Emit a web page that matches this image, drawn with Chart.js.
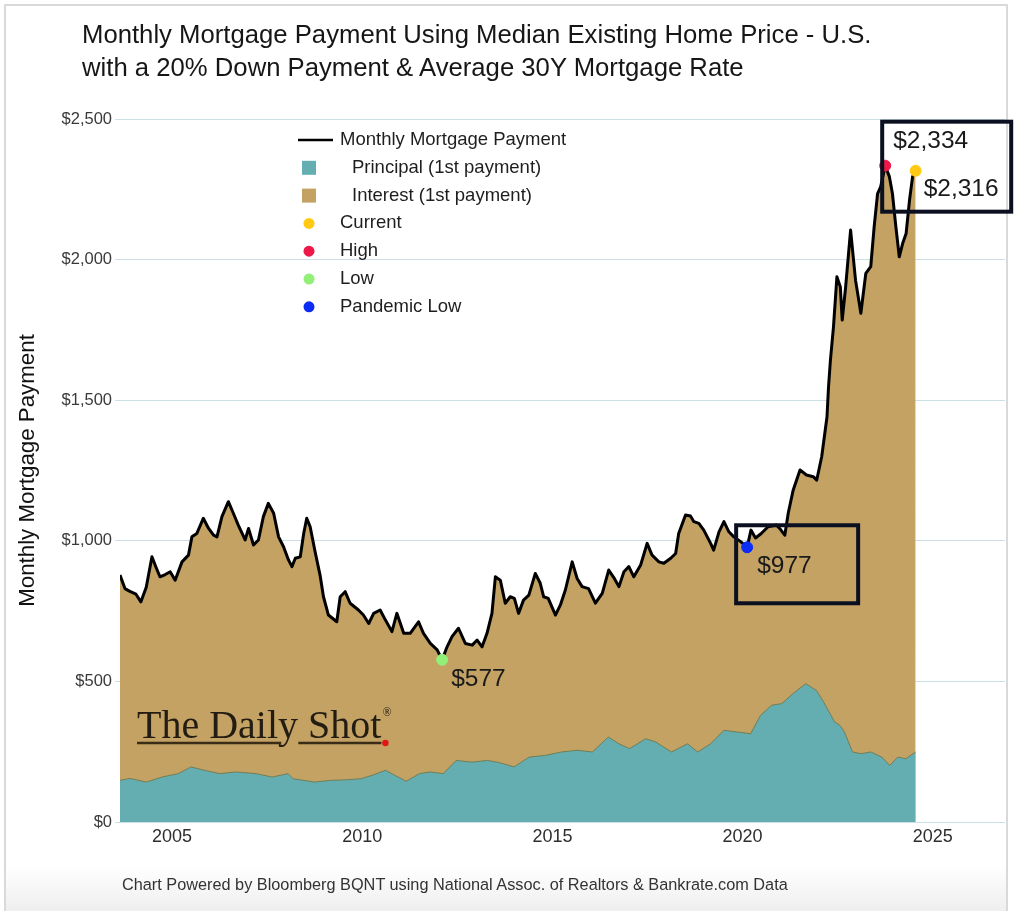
<!DOCTYPE html>
<html>
<head>
<meta charset="utf-8">
<title>Monthly Mortgage Payment</title>
<script src="https://cdn.jsdelivr.net/npm/chart.js@4.4.1/dist/chart.umd.min.js"></script>
<style>
  html, body { margin: 0; padding: 0; background: #fff; }
  #wrap { position: relative; width: 1016px; height: 911px; overflow: hidden;
          font-family: "Liberation Sans", Arial, sans-serif; }
  #frame { position: absolute; left: 4px; top: 4px; width: 1000px; height: 910px;
           border: 2px solid #d9d9d9; border-bottom: none;
           background: linear-gradient(#fff 0, #fff 860px, #ececec 911px); }
  #chart { position: absolute; left: 0; top: 0; }
  #title { position: absolute; left: 82px; top: 18px; font-size: 25.7px; line-height: 33px; color: #161616; }
  #footer { position: absolute; left: 122px; top: 875px; font-size: 16.3px; line-height: 18px; color: #333; }
</style>
</head>
<body>
<div id="wrap">
  <div id="frame"></div>
  <canvas id="chart" width="1016" height="911"></canvas>
  <div id="title">Monthly Mortgage Payment Using Median Existing Home Price - U.S.<br>with a 20% Down Payment &amp; Average 30Y Mortgage Rate</div>
  <div id="footer">Chart Powered by Bloomberg BQNT using National Assoc. of Realtors &amp; Bankrate.com Data</div>
</div>
<script>
// ---------------- data ----------------
const payYears = [
  2003.63, 2003.76, 2003.89, 2004.05, 2004.18, 2004.32, 2004.47, 2004.58, 2004.68, 2004.82,
  2004.95, 2005.08, 2005.26, 2005.43, 2005.52, 2005.65, 2005.82, 2005.96, 2006.09, 2006.18,
  2006.31, 2006.48, 2006.61, 2006.74, 2006.92, 2007.01, 2007.14, 2007.27, 2007.40, 2007.53,
  2007.67, 2007.80, 2007.93, 2008.06, 2008.15, 2008.24, 2008.37, 2008.46, 2008.54, 2008.63,
  2008.76, 2008.89, 2008.98, 2009.11, 2009.33, 2009.42, 2009.55, 2009.68, 2009.90, 2010.03,
  2010.17, 2010.30, 2010.47, 2010.61, 2010.78, 2010.91, 2011.09, 2011.26, 2011.48, 2011.61,
  2011.79, 2011.97, 2012.10, 2012.23, 2012.36, 2012.53, 2012.71, 2012.89, 2013.02, 2013.15,
  2013.28, 2013.41, 2013.50, 2013.63, 2013.76, 2013.89, 2014.00, 2014.11, 2014.24, 2014.38,
  2014.55, 2014.68, 2014.77, 2014.89, 2015.08, 2015.21, 2015.34, 2015.52, 2015.65, 2015.78,
  2015.95, 2016.13, 2016.31, 2016.48, 2016.61, 2016.75, 2016.88, 2017.01, 2017.14, 2017.32,
  2017.49, 2017.62, 2017.80, 2017.93, 2018.11, 2018.24, 2018.32, 2018.50, 2018.63, 2018.72,
  2018.85, 2018.98, 2019.16, 2019.24, 2019.38, 2019.51, 2019.64, 2019.77, 2019.95, 2020.12,
  2020.22, 2020.34, 2020.49, 2020.67, 2020.89, 2021.00, 2021.11, 2021.20, 2021.33, 2021.51,
  2021.68, 2021.86, 2021.95, 2022.08, 2022.22, 2022.26, 2022.31, 2022.39, 2022.48, 2022.57,
  2022.62, 2022.71, 2022.84, 2022.97, 2023.11, 2023.24, 2023.37, 2023.46, 2023.55, 2023.63,
  2023.75, 2023.86, 2023.94, 2024.03, 2024.12, 2024.21, 2024.30, 2024.39, 2024.47, 2024.55
];
const payValues = [
  878, 830, 820, 810, 783, 835, 943, 905, 872, 880,
  890, 860, 925, 949, 1014, 1026, 1080, 1044, 1020, 1014,
  1086, 1139, 1098, 1056, 1003, 1044, 985, 1003, 1086, 1133,
  1098, 1014, 979, 932, 908, 938, 943, 1026, 1080, 1050,
  961, 878, 801, 736, 712, 801, 819, 778, 754, 736,
  706, 742, 754, 718, 677, 742, 671, 671, 712, 671,
  635, 612, 577, 623, 659, 689, 635, 629, 647, 623,
  671, 742, 872, 860, 778, 801, 795, 742, 789, 807,
  884, 849, 801, 795, 736, 772, 825, 925, 866, 837,
  830, 778, 813, 896, 870, 837, 890, 908, 872, 914,
  991, 949, 925, 920, 938, 955, 1026, 1092, 1088, 1068,
  1062, 1038, 991, 967, 1032, 1068, 1032, 1014, 997, 977,
  1038, 1010, 1026, 1050, 1056, 1040, 1020, 1098, 1180, 1252,
  1234, 1228, 1216, 1299, 1441, 1548, 1643, 1761, 1939, 1903,
  1785, 1903, 2105, 1927, 1809, 1951, 1975, 2117, 2235, 2259,
  2334, 2295, 2235, 2117, 2010, 2058, 2093, 2212, 2295, 2316
];

const principalYears = [
  2003.63, 2003.89, 2004.32, 2004.74, 2005.16, 2005.50, 2005.84, 2006.26, 2006.67, 2007.21,
  2007.63, 2008.05, 2008.18, 2008.74, 2009.16, 2009.58, 2009.97, 2010.26, 2010.61, 2010.87,
  2011.16, 2011.50, 2011.78, 2012.13, 2012.47, 2012.88, 2013.29, 2013.58, 2013.99, 2014.39,
  2014.82, 2015.24, 2015.65, 2016.05, 2016.47, 2016.75, 2017.03, 2017.45, 2017.71, 2018.13,
  2018.55, 2018.82, 2019.16, 2019.51, 2019.86, 2020.21, 2020.47, 2020.76, 2021.03, 2021.32,
  2021.66, 2021.94, 2022.13, 2022.42, 2022.55, 2022.68, 2022.89, 2023.11, 2023.37, 2023.66,
  2023.87, 2024.08, 2024.29, 2024.55
];
const principalValues = [
  148, 155, 142, 160, 172, 196, 184, 172, 178, 172,
  160, 172, 154, 142, 148, 150, 154, 166, 184, 165,
  145, 172, 178, 172, 219, 213, 219, 212, 196, 231,
  237, 249, 255, 249, 302, 278, 261, 296, 285, 249,
  278, 249, 278, 326, 320, 314, 379, 415, 421, 456,
  492, 468, 427, 356, 345, 320, 249, 243, 249, 231,
  201, 231, 225, 249
];

// highlighted points: [year, payment]
const currentPoint = [2024.55, 2316];
const highPoint = [2023.75, 2334];
const lowPoint = [2012.10, 577];
const pandemicLowPoint = [2020.12, 977];

const xTicks = [2005, 2010, 2015, 2020, 2025];
const xMin = 2003.63, xMax = 2026.9;
const yMin = 0, yMax = 2500, yStep = 500;

// ---------------- colours / fonts ----------------
const TAN = '#c3a264';
const TEAL = '#64adb0';
const SANS = '"Liberation Sans", Arial, sans-serif';

function xy(xs, ys) {
  return xs.map((v, i) => ({ x: v, y: ys[i] }));
}
function dot(label, p, color) {
  return {
    label: label, legendKind: 'dot',
    data: [{ x: p[0], y: p[1] }],
    showLine: false, pointRadius: 5.5, pointHoverRadius: 5.5,
    pointBackgroundColor: color, pointBorderColor: color, borderColor: color, backgroundColor: color,
    order: -1
  };
}

// legend drawn inside the plot area, top left
const insideLegend = {
  id: 'insideLegend',
  afterDraw(chart) {
    const { ctx, chartArea } = chart;
    const x0 = chartArea.left + 178, y0 = chartArea.top + 21, rowH = 27.8;
    ctx.save();
    ctx.font = '18.5px ' + SANS;
    ctx.textBaseline = 'middle';
    ctx.fillStyle = '#1e1e1e';
    chart.data.datasets.forEach((ds, i) => {
      const y = y0 + i * rowH;
      if (ds.legendKind === 'line') {
        ctx.strokeStyle = ds.borderColor;
        ctx.lineWidth = 2.5;
        ctx.beginPath(); ctx.moveTo(x0, y); ctx.lineTo(x0 + 35, y); ctx.stroke();
        ctx.fillStyle = '#1e1e1e';
        ctx.fillText(ds.label, x0 + 42, y);
      } else if (ds.legendKind === 'box') {
        ctx.fillStyle = ds.backgroundColor;
        ctx.fillRect(x0 + 4, y - 7, 14, 14);
        ctx.fillStyle = '#1e1e1e';
        ctx.fillText(ds.label, x0 + 54, y);
      } else {
        ctx.fillStyle = ds.backgroundColor;
        ctx.beginPath(); ctx.arc(x0 + 11, y, 5.5, 0, Math.PI * 2); ctx.fill();
        ctx.fillStyle = '#1e1e1e';
        ctx.fillText(ds.label, x0 + 42, y);
      }
    });
    ctx.restore();
  }
};

// value labels, highlight boxes and the watermark
const notes = {
  id: 'notes',
  afterDraw(chart) {
    const { ctx, chartArea, scales: { x, y } } = chart;
    const px = p => [x.getPixelForValue(p[0]), y.getPixelForValue(p[1])];
    const lo = px(lowPoint), pl = px(pandemicLowPoint), hi = px(highPoint), cu = px(currentPoint);
    ctx.save();
    ctx.font = '24.5px ' + SANS;
    ctx.fillStyle = '#1a1a1a';
    ctx.textBaseline = 'middle';
    ctx.fillText('$' + lowPoint[1].toLocaleString('en-US'), lo[0] + 9, lo[1] + 20);
    ctx.fillText('$' + pandemicLowPoint[1].toLocaleString('en-US'), pl[0] + 10, pl[1] + 19);
    ctx.fillText('$' + highPoint[1].toLocaleString('en-US'), hi[0] + 8, hi[1] - 24);
    ctx.fillText('$' + currentPoint[1].toLocaleString('en-US'), cu[0] + 8, cu[1] + 19);

    ctx.strokeStyle = '#0b1020';
    ctx.lineWidth = 4;
    ctx.strokeRect(pl[0] - 11, pl[1] - 22, 122, 78);
    ctx.strokeRect(hi[0] - 3, hi[1] - 44, 129, 90);

    // The Daily Shot mark
    const wx = chartArea.left + 17, wy = chartArea.bottom - 84;
    ctx.font = '40px "Liberation Serif", "DejaVu Serif", serif';
    ctx.textBaseline = 'alphabetic';
    ctx.fillStyle = '#231c12';
    ctx.fillText('The Daily Shot', wx, wy);
    const w = ctx.measureText('The Daily Shot').width;
    ctx.font = '12px "Liberation Serif", serif';
    ctx.fillText('\u00AE', wx + w + 1, wy - 22);
    ctx.strokeStyle = '#3a2c16';
    ctx.lineWidth = 2.5;
    ctx.beginPath();
    ctx.moveTo(wx, wy + 5); ctx.lineTo(wx + w * 0.59, wy + 5);
    ctx.moveTo(wx + w * 0.66, wy + 5); ctx.lineTo(wx + w, wy + 5);
    ctx.stroke();
    ctx.fillStyle = '#e01515';
    ctx.beginPath(); ctx.arc(wx + w + 4, wy + 5, 3.2, 0, Math.PI * 2); ctx.fill();
    ctx.restore();
  }
};

const chart = new Chart(document.getElementById('chart'), {
  type: 'line',
  data: {
    datasets: [
      {
        label: 'Monthly Mortgage Payment', legendKind: 'line',
        data: xy(payYears, payValues),
        borderColor: '#000', borderWidth: 3, pointRadius: 0, fill: false,
        tension: 0, borderJoinStyle: 'round', order: 0
      },
      {
        label: 'Principal (1st payment)', legendKind: 'box',
        data: xy(principalYears, principalValues),
        borderColor: 'rgba(105,120,80,0.85)', borderWidth: 1, backgroundColor: TEAL,
        pointRadius: 0, fill: 'origin', tension: 0, order: 1
      },
      {
        label: 'Interest (1st payment)', legendKind: 'box',
        data: xy(payYears, payValues),
        borderWidth: 0, borderColor: TAN, backgroundColor: TAN,
        pointRadius: 0, fill: 'origin', tension: 0, order: 2
      },
      dot('Current', currentPoint, '#ffc914'),
      dot('High', highPoint, '#ee1848'),
      dot('Low', lowPoint, '#92ef78'),
      dot('Pandemic Low', pandemicLowPoint, '#0b2cf5')
    ]
  },
  options: {
    responsive: false,
    animation: false,
    events: [],
    layout: { padding: { left: 0, top: 119, right: 11, bottom: 29 } },
    plugins: { legend: { display: false }, tooltip: { enabled: false } },
    scales: {
      x: {
        type: 'linear', min: xMin, max: xMax,
        grid: { display: false, drawTicks: false },
        border: { display: false },
        afterBuildTicks: s => { s.ticks = xTicks.map(v => ({ value: v })); },
        afterFit: s => { s.height = 60; },
        ticks: {
          padding: 4, color: '#2e2e2e',
          font: { family: SANS, size: 18 },
          callback: v => String(v)
        }
      },
      y: {
        min: yMin, max: yMax, z: 1,
        grid: { color: 'rgba(160,196,212,0.55)', lineWidth: 1, tickLength: 5 },
        border: { display: false },
        afterFit: s => { s.width = 120; },
        title: {
          display: true, text: 'Monthly Mortgage Payment', color: '#111',
          font: { family: SANS, size: 22.3 }, padding: { top: 14, bottom: 0 }
        },
        ticks: {
          stepSize: yStep, padding: 3, color: '#3a3a3a',
          font: { family: SANS, size: 16.5 },
          callback: v => '$' + v.toLocaleString('en-US')
        }
      }
    }
  },
  plugins: [insideLegend, notes]
});
</script>
</body>
</html>
